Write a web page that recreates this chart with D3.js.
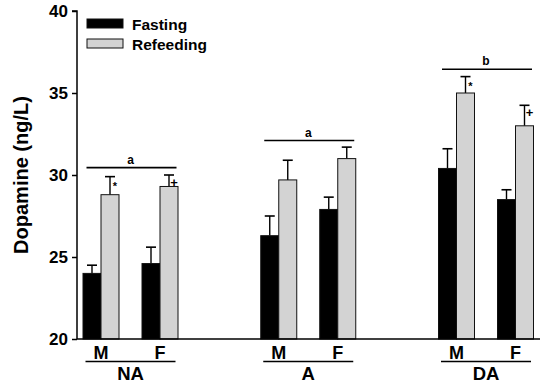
<!DOCTYPE html>
<html><head><meta charset="utf-8">
<script src="https://cdn.jsdelivr.net/npm/d3@7"></script>
<style>body{margin:0;background:#fff}text{font-family:"Liberation Sans",Arial,sans-serif;font-weight:bold}</style>
</head><body><svg id="c" width="550" height="389"></svg>
<script>
const groups = ["NA", "A", "DA"];
const sexes = ["M", "F"];
const series = ["Fasting", "Refeeding"];
// values[group][sex] = [Fasting, Refeeding]
const fastingMean   = [[24.0, 24.6], [26.3, 27.9], [30.4, 28.5]];
const fastingErr    = [[0.5, 1.0], [1.2, 0.75], [1.2, 0.6]];
const refeedMean    = [[28.8, 29.3], [29.7, 31.0], [35.0, 33.0]];
const refeedErr     = [[1.1, 0.7], [1.2, 0.7], [1.0, 1.25]];
const refeedMarks   = [["*", "+"], ["", ""], ["*", "+"]];
const sigLetters    = ["a", "a", "b"];
const sigLevels     = [30.45, 32.1, 36.45];
const yTicks = [20, 25, 30, 35, 40];

const svg = d3.select("#c");
const y = d3.scaleLinear().domain([20, 40]).range([339, 11]);
const xg = d3.scalePoint().domain(groups).range([130.5, 486]);
const xs = d3.scalePoint().domain(sexes).range([-29.5, 29.5]);
const xb = d3.scaleBand().domain(series).range([-18, 18]).padding(0);
const colors = {Fasting: "#000", Refeeding: "#d3d3d3"};

const rows = [];
groups.forEach((g, gi) => sexes.forEach((s, si) => {
  rows.push({g, s, series: "Fasting", v: fastingMean[gi][si], e: fastingErr[gi][si], m: ""});
  rows.push({g, s, series: "Refeeding", v: refeedMean[gi][si], e: refeedErr[gi][si], m: refeedMarks[gi][si]});
}));
const bx = d => xg(d.g) + xs(d.s) + xb(d.series);
const cx = d => bx(d) + xb.bandwidth() / 2;

// error bars (upper only)
svg.selectAll(".err").data(rows).join("g").each(function(d) {
  const g = d3.select(this);
  const top = y(d.v + d.e);
  g.append("line").attr("x1", cx(d)).attr("x2", cx(d)).attr("y1", y(d.v)).attr("y2", top)
    .attr("stroke", "#000").attr("stroke-width", 1.4);
  g.append("line").attr("x1", cx(d) - 5).attr("x2", cx(d) + 5).attr("y1", top).attr("y2", top)
    .attr("stroke", "#000").attr("stroke-width", 1.6);
});

// bars
svg.selectAll(".bar").data(rows).join("rect")
  .attr("x", bx).attr("width", xb.bandwidth())
  .attr("y", d => y(d.v)).attr("height", d => y(20) - y(d.v))
  .attr("fill", d => colors[d.series]).attr("stroke", "#111").attr("stroke-width", 1);

// markers
svg.selectAll(".mk").data(rows.filter(d => d.m)).join("text")
  .attr("x", d => cx(d) + 5).attr("y", d => y(d.v + d.e) + (d.m === "*" ? 13 : 12))
  .attr("font-size", d => d.m === "*" ? 11 : 13).attr("text-anchor", "middle")
  .text(d => d.m);

// significance lines
groups.forEach((g, i) => {
  const yy = y(sigLevels[i]);
  svg.append("line").attr("x1", xg(g) - 44).attr("x2", xg(g) + 46).attr("y1", yy).attr("y2", yy)
    .attr("stroke", "#000").attr("stroke-width", 1.6);
  svg.append("text").attr("x", xg(g)).attr("y", yy - 4).attr("text-anchor", "middle")
    .attr("font-size", 12).text(sigLetters[i]);
});

// y axis
const yAxis = svg.append("g").attr("transform", "translate(77,0)")
  .call(d3.axisLeft(y).tickValues(yTicks).tickSize(5).tickPadding(4).tickFormat(d3.format("d")));
yAxis.select(".domain").attr("stroke-width", 1.5).attr("d", `M-5,${y(40)}H0V${y(20)}`);
yAxis.selectAll(".tick line").attr("stroke-width", 1.5);
yAxis.selectAll(".tick text").attr("font-size", 17).attr("fill", "#000")
  .style("font-family", '"Liberation Sans",Arial,sans-serif').style("font-weight", "bold");

// x axis line
svg.append("line").attr("x1", 77).attr("x2", 540).attr("y1", y(20)).attr("y2", y(20))
  .attr("stroke", "#000").attr("stroke-width", 1.5);

// x labels
groups.forEach(g => {
  sexes.forEach(s => {
    svg.append("text").attr("x", xg(g) + xs(s)).attr("y", 358.5).attr("text-anchor", "middle")
      .attr("font-size", 18).text(s);
  });
  svg.append("line").attr("x1", xg(g) - 45).attr("x2", xg(g) + 45).attr("y1", 361.5).attr("y2", 361.5)
    .attr("stroke", "#000").attr("stroke-width", 1.5);
  svg.append("text").attr("x", xg(g)).attr("y", 380).attr("text-anchor", "middle")
    .attr("font-size", 18.5).text(g);
});

// y title
svg.append("text").attr("transform", "translate(28,175) rotate(-90)").attr("text-anchor", "middle")
  .attr("font-size", 20).text("Dopamine (ng/L)");

// legend
series.forEach((s, i) => {
  svg.append("rect").attr("x", 87).attr("y", 19 + i * 20).attr("width", 36).attr("height", 9)
    .attr("fill", colors[s]).attr("stroke", "#111").attr("stroke-width", 1);
  svg.append("text").attr("x", 132).attr("y", 29.5 + i * 20).attr("font-size", 15.5).text(s);
});
</script></body></html>
